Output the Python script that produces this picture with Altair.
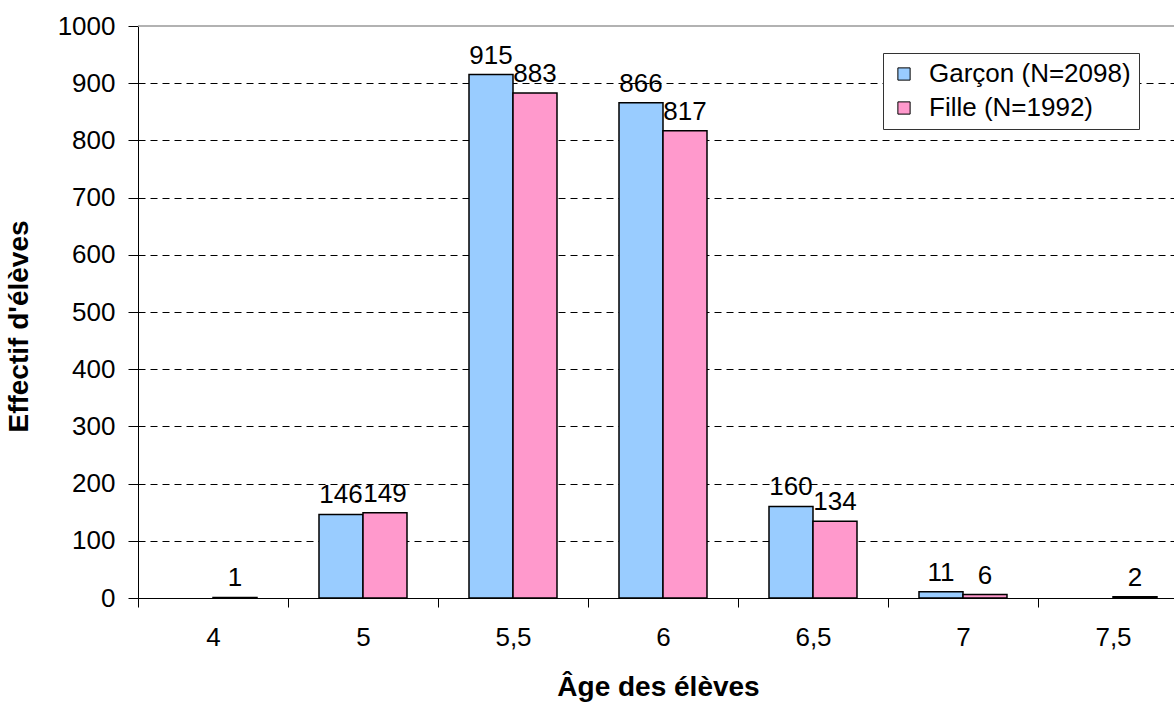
import json
import altair as alt
import pandas as pd

# Age classes and head counts per sex
ages = ["4", "5", "5,5", "6", "6,5", "7", "7,5"]
garcon = [0, 146, 915, 866, 160, 11, 0]
fille = [1, 149, 883, 817, 134, 6, 2]
series = ["Garçon (N=2098)", "Fille (N=1992)"]
colors = ["#99CCFF", "#FF99CC"]

rows = []
for i, (g, f) in enumerate(zip(garcon, fille)):
    rows.append({"idx": i, "sexe": series[0], "val": g})
    rows.append({"idx": i, "sexe": series[1], "val": f})
df = pd.DataFrame(rows)

FONT = "Liberation Sans"
LABEL_SIZE = 26
TITLE_SIZE = 28
BAR_W = 44 / 150  # bar width as a fraction of one age class

x_scale = alt.Scale(domain=[-0.5, 6.4067], nice=False, zero=False)
y_scale = alt.Scale(domain=[0, 1000], nice=False)

# Empty classes get neither a bar nor a label
base = alt.Chart(df).transform_filter("datum.val > 0").transform_calculate(
    x0=f"datum.sexe === '{series[0]}' ? datum.idx - {BAR_W} : datum.idx",
    x1=f"datum.sexe === '{series[0]}' ? datum.idx : datum.idx + {BAR_W}",
    xc=f"datum.sexe === '{series[0]}' ? datum.idx - {BAR_W / 2} : datum.idx + {BAR_W / 2}",
)

label_expr = f"{json.dumps(ages)}[round(datum.value + 0.5)]"

bars = base.mark_bar(stroke="black", strokeWidth=1.5).encode(
    x=alt.X(
        "x0:Q",
        scale=x_scale,
        axis=alt.Axis(
            values=[-0.5, 0.5, 1.5, 2.5, 3.5, 4.5, 5.5],
            labelExpr=label_expr,
            labelOffset=75,
            labelFlush=False,
            labelOverlap=False,
            labelBound=False,
            labelPadding=17,
            labelFontSize=LABEL_SIZE,
            labelFont=FONT,
            labelColor="black",
            tickSize=9,
            tickColor="black",
            domainColor="black",
            grid=False,
            title="Âge des élèves",
            titleFont=FONT,
            titleFontSize=TITLE_SIZE,
            titleFontWeight="bold",
            titleColor="black",
            titleX=520,
            titleY=97,
            titleBaseline="alphabetic",
        ),
    ),
    x2="x1:Q",
    y=alt.Y(
        "val:Q",
        scale=y_scale,
        axis=alt.Axis(
            values=list(range(0, 1001, 100)),
            format="d",
            labelFontSize=LABEL_SIZE,
            labelFont=FONT,
            labelColor="black",
            labelPadding=13,
            tickSize=10,
            tickColor="black",
            domainColor="black",
            grid=True,
            gridColor="black",
            gridDash=[7, 5],
            gridOpacity={"condition": {"test": "datum.value >= 1000 || datum.value <= 0", "value": 0}, "value": 1},
            title="Effectif d'élèves",
            titleFont=FONT,
            titleFontSize=TITLE_SIZE,
            titleFontWeight="bold",
            titleColor="black",
            titleX=-119,
            titleY=300,
            titleAngle=270,
            titleBaseline="middle",
        ),
    ),
    y2=alt.datum(0),
    color=alt.Color(
        "sexe:N",
        scale=alt.Scale(domain=series, range=colors),
        legend=alt.Legend(
            title=None,
            orient="none",
            legendX=745,
            legendY=27,
            fillColor="white",
            strokeColor="#333333",
            padding=8,
            symbolType="square",
            symbolSize=150,
            symbolStrokeColor="black",
            symbolStrokeWidth=1,
            labelFont=FONT,
            labelFontSize=LABEL_SIZE,
            labelColor="black",
            labelLimit=0,
            rowPadding=8,
            labelOffset=12,
        ),
    ),
)

labels = base.mark_text(
    font=FONT, fontSize=LABEL_SIZE, color="black", baseline="alphabetic", dy=-11
).encode(
    x=alt.X("xc:Q", scale=x_scale),
    y=alt.Y("val:Q", scale=y_scale),
    text="val:Q",
)

top_line = alt.Chart(pd.DataFrame({"v": [1000]})).mark_rule(color="#999999", strokeWidth=1.5).encode(
    y=alt.Y("v:Q", scale=y_scale)
)

chart = (
    alt.layer(bars, labels, top_line)
    .properties(
        width=1036,
        height=572,
        autosize=alt.AutoSizeParams(type="none"),
        padding={"left": 138, "top": 26, "right": 0, "bottom": 104},
        background="white",
    )
    .configure_view(stroke=None)
)

chart.save("out.html", embed_options={"renderer": "svg", "actions": False})
